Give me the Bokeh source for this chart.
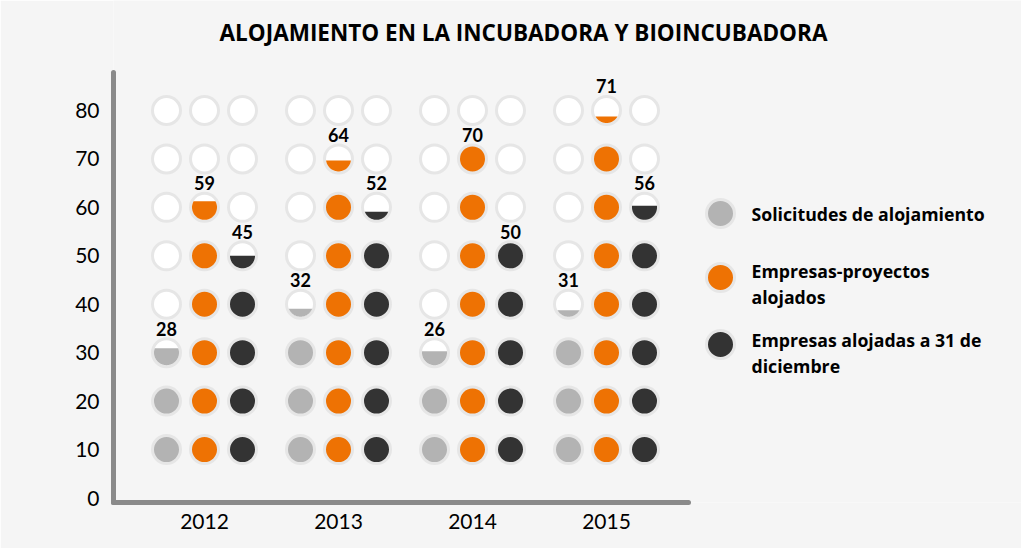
import numpy as np
from bokeh.plotting import figure
from bokeh.models import Range1d, FixedTicker, ColumnDataSource
from bokeh.core.properties import value
from bokeh.embed import file_html
from bokeh.resources import INLINE

# ---------------- data ----------------
title = "ALOJAMIENTO EN LA INCUBADORA Y BIOINCUBADORA"
years = ["2012", "2013", "2014", "2015"]
series_names = ["Solicitudes de alojamiento",
                "Empresas-proyectos alojados",
                "Empresas alojadas a 31 de diciembre"]
legend_lines = [["Solicitudes de alojamiento"],
                ["Empresas-proyectos", "alojados"],
                ["Empresas alojadas a 31 de", "diciembre"]]
solicitudes = [28, 32, 26, 31]
proyectos = [59, 64, 70, 71]
alojadas = [45, 52, 50, 56]
y_ticks = [0, 10, 20, 30, 40, 50, 60, 70, 80]
unit = 10          # value of one circle
n_slots = 8        # circles per column

# ---------------- style ----------------
colors = ["#b3b3b3", "#ee7203", "#333333"]
ring = "#e6e6e6"
bg = "#f5f5f5"
axis_col = "#8a8a8a"
FONT = "Lato"
TFONT = "Open Sans"

W, H = 1021, 548
LEFT, BOTTOM_IMG = 113, 502
FRAME_W, FRAME_H = W - LEFT, BOTTOM_IMG
PXV = 4.844                       # pixels per value unit
ZERO_IMG = 497.5                  # image y of value 0
Y_START = -(BOTTOM_IMG - ZERO_IMG) / PXV
Y_END = ZERO_IMG / PXV


def vy(img_y):
    """image-pixel y -> value units (layout helper)"""
    return (ZERO_IMG - img_y) / PXV


GX0, GSTEP, OFF = 204, 134, 38
R_IN = 12.5
SIZE = 28
FILL_K = 0.6      # visual compression of partial fill height

p = figure(frame_width=FRAME_W, frame_height=FRAME_H,
           x_range=Range1d(LEFT, W), y_range=Range1d(Y_START, Y_END),
           output_backend="svg", toolbar_location=None,
           min_border_left=LEFT, min_border_right=0, min_border_top=0,
           min_border_bottom=H - BOTTOM_IMG)
p.background_fill_color = bg
p.border_fill_color = bg
p.outline_line_color = None
p.grid.grid_line_color = None

# axes
p.yaxis.ticker = FixedTicker(ticks=y_ticks)
p.yaxis.bounds = (Y_START, vy(72))
centers = [GX0 + GSTEP * i for i in range(len(years))]
p.xaxis.ticker = FixedTicker(ticks=centers)
p.xaxis.major_label_overrides = {c: y for c, y in zip(centers, years)}
p.xaxis.bounds = (LEFT, 688)
for ax in (p.xaxis, p.yaxis):
    ax.axis_line_width = 5
    ax.axis_line_color = axis_col
    ax.axis_line_cap = "round"
    ax.major_tick_line_color = None
    ax.minor_tick_line_color = None
    ax.major_label_text_font = FONT
    ax.major_label_text_font_size = "21px"
    ax.major_label_text_color = "#000000"
p.yaxis.major_label_standoff = 8
p.xaxis.major_label_standoff = 5

# circles
data = [solicitudes, proyectos, alojadas]
full = dict(x=[], y=[], c=[])
empty = dict(x=[], y=[])
part_xs, part_ys, part_c = [], [], []
lab = dict(x=[], y=[], t=[])
for i in range(len(years)):
    for j, vals in enumerate(data):
        v = vals[i]
        cx = centers[i] + (j - 1) * OFF
        for k in range(1, n_slots + 1):
            frac = (v - (k - 1) * unit) / unit
            cy = k * unit
            if frac >= 1:
                full["x"].append(cx); full["y"].append(cy); full["c"].append(colors[j])
            else:
                empty["x"].append(cx); empty["y"].append(cy)
                if frac > 0:
                    hf = 0.5 + (frac - 0.5) * FILL_K
                    yl = -R_IN + 2 * R_IN * hf
                    phi = np.arcsin(yl / R_IN)
                    a = np.linspace(np.pi - phi, 2 * np.pi + phi, 60)
                    part_xs.append(list(cx + R_IN * np.cos(a)))
                    part_ys.append(list(cy + R_IN * np.sin(a) / PXV))
                    part_c.append(colors[j])
        top = int(np.ceil(v / unit)) * unit
        lab["x"].append(cx); lab["y"].append(top + 24 / PXV); lab["t"].append(str(v))

p.scatter("x", "y", source=ColumnDataSource(empty), size=SIZE, fill_color="#ffffff",
          line_color=ring, line_width=3)
p.scatter("x", "y", source=ColumnDataSource(full), size=SIZE, fill_color="c",
          line_color=ring, line_width=3)
p.patches(part_xs, part_ys, fill_color=part_c, line_color=None)
p.text("x", "y", text="t", source=ColumnDataSource(lab), text_font=value(FONT),
       text_font_style="bold", text_font_size="18px", text_align="center",
       text_baseline="middle", text_color="#000000")

# legend (drawn)
leg_circ_y = [vy(213), vy(277), vy(344)]
p.scatter([720] * 3, leg_circ_y, size=SIZE, fill_color=colors, line_color=ring, line_width=3)
lx, ly, lt = [], [], []
for n, lines in enumerate(legend_lines):
    start = 213 if n == 0 else (270 if n == 1 else 339)
    for m, line in enumerate(lines):
        lx.append(751); ly.append(vy(start + 26 * m)); lt.append(line)
p.text(lx, ly, text=lt, text_font=value(TFONT), text_font_style="bold",
       text_font_size="17.7px", text_align="left", text_baseline="middle",
       text_color="#000000")

# title
p.text([523], [vy(32)], text=[title], text_font=value(TFONT), text_font_style="bold",
       text_font_size="22.5px", text_align="center", text_baseline="middle",
       text_color="#000000")

open("out.html", "w").write(file_html(p, INLINE))
